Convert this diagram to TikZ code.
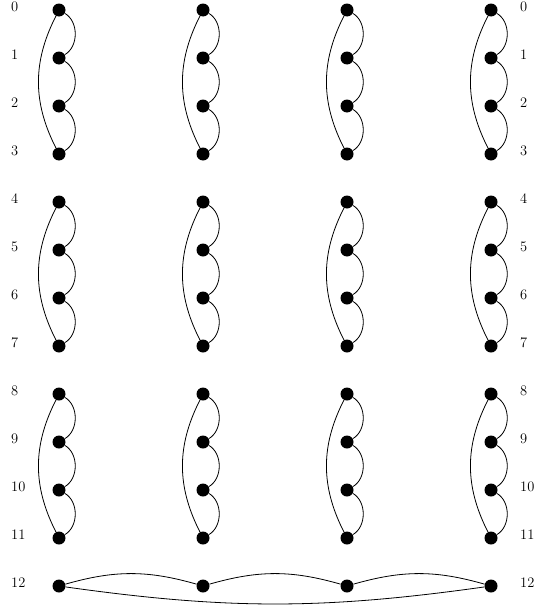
\documentclass[tikz,border=0pt]{standalone}
\usetikzlibrary{positioning}
\begin{document}
\begin{tikzpicture}[x=1pt,y=-1pt,
  dot/.style={circle,fill=black,inner sep=0pt,minimum size=13pt},
  lbl/.style={anchor=west,inner sep=0pt,font=\fontsize{14.5}{17}\selectfont},
  edge/.style={line width=0.8pt}]
\useasboundingbox (0,0) rectangle (540,613);
% vertical groups
\foreach \c/\x in {1/59,2/203,3/347,4/491}{
  \foreach \k in {0,...,11}{
    \node[dot] (n\c-\k) at (\x,{10+48*\k}) {};
  }
}
\foreach \c in {1,2,3,4}{
  \foreach \a in {0,4,8}{
    \pgfmathtruncatemacro{\b}{\a+1}
    \pgfmathtruncatemacro{\cc}{\a+2}
    \pgfmathtruncatemacro{\d}{\a+3}
    \draw[edge] (n\c-\a) to[bend left=60] (n\c-\b);
    \draw[edge] (n\c-\b) to[bend left=60] (n\c-\cc);
    \draw[edge] (n\c-\cc) to[bend left=60] (n\c-\d);
    \draw[edge] (n\c-\a) to[bend right=27] (n\c-\d);
  }
}
% bottom row
\foreach \c/\x in {1/59,2/203,3/347,4/491}{
  \node[dot] (m\c) at (\x,586) {};
}
\draw[edge] (m1) to[bend left=16] (m2);
\draw[edge] (m2) to[bend left=16] (m3);
\draw[edge] (m3) to[bend left=16] (m4);
\draw[edge] (m1) to[bend right=8] (m4);
% labels
\foreach \k in {0,...,12}{
  \node[lbl] (l\k) at (11,{6.5+48*\k}) {\k};
  \node[lbl] (r\k) at (520,{6.5+48*\k}) {\k};
}
\end{tikzpicture}
\end{document}
